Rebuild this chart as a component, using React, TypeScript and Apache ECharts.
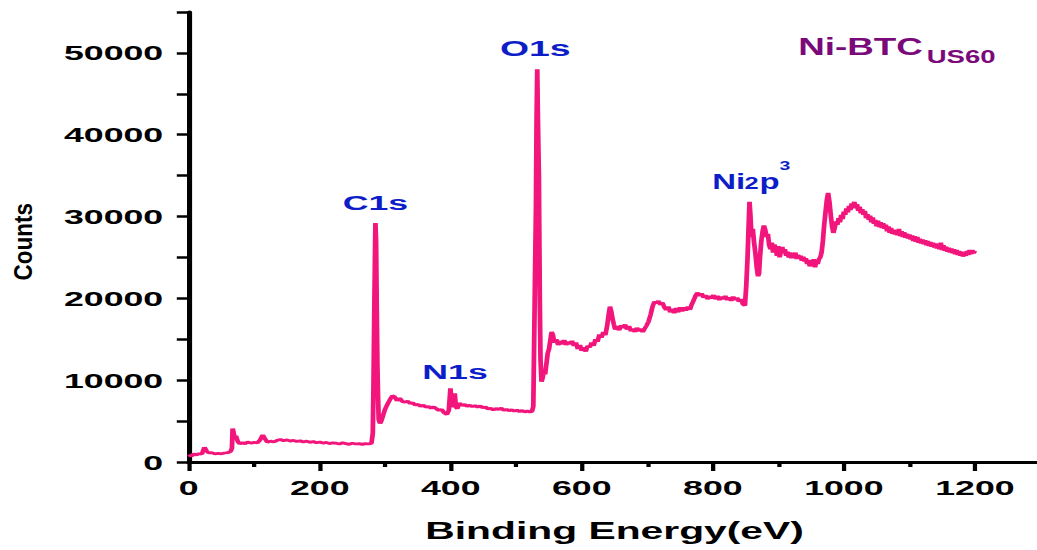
import React, { useEffect, useRef } from "react";
import * as echarts from "echarts";

// Binding energy (eV) and counts
const energy: number[] = [
  0, 4, 8, 12, 16, 20, 24, 27, 30, 35,
  40, 45, 50, 55, 60, 64, 66, 67, 68, 70,
  72, 75, 78, 82, 86, 90, 95, 100, 105, 109,
  113, 116, 120, 125, 130, 135, 140, 145, 150, 155,
  160, 165, 170, 175, 180, 185, 190, 195, 200, 205,
  210, 215, 220, 225, 230, 235, 240, 245, 250, 255,
  260, 265, 270, 275, 279, 281, 282, 283.5, 285, 286,
  287, 288, 289, 290, 292, 294, 296, 299, 303, 307,
  311, 314, 318, 322, 326, 330, 334, 338, 342, 346,
  350, 354, 358, 362, 366, 370, 374, 378, 382, 386,
  390, 394, 397, 399.5, 401, 402.5, 404, 406, 408, 410,
  413, 417, 421, 425, 429, 433, 437, 441, 445, 449,
  453, 457, 461, 465, 469, 473, 477, 481, 485, 489,
  493, 497, 501, 505, 509, 513, 517, 521, 524, 526,
  528, 530, 531, 532, 533, 534.5, 536, 537, 538.5, 540,
  542, 544, 546, 548, 550, 552, 554, 556, 558, 561,
  564, 567, 570, 573, 576, 579, 582, 585, 588, 591,
  594, 597, 600, 603, 606, 609, 612, 615, 618, 621,
  624, 627, 630, 633, 636, 639, 641, 643, 645, 647,
  649, 651, 654, 657, 660, 663, 666, 669, 672, 675,
  678, 681, 684, 687, 690, 693, 696, 699, 702, 705,
  708, 711, 714, 717, 720, 723, 726, 729, 732, 735,
  738, 741, 744, 747, 750, 753, 756, 759, 762, 765,
  768, 771, 774, 777, 780, 783, 786, 789, 792, 795,
  798, 801, 804, 807, 810, 813, 816, 819, 822, 825,
  828, 831, 834, 837, 840, 843, 846, 849, 851, 853,
  854.5, 856, 857.5, 859, 861, 863, 865, 867, 869, 870.5,
  872, 874, 876, 878, 880, 882, 884, 886, 888, 890,
  892, 894, 896, 898, 900, 902, 904, 906, 908, 910,
  912, 914, 916, 918, 920, 922, 924, 926, 928, 930,
  932, 934, 936, 938, 940, 942, 944, 946, 948, 950,
  952, 954, 956, 958, 960, 962, 964, 966, 968, 970,
  972, 974, 976, 978, 980, 982, 984, 986, 988, 990,
  992, 994, 996, 998, 1000, 1002, 1004, 1006, 1008, 1010,
  1012, 1014, 1016, 1018, 1020, 1022, 1024, 1026, 1028, 1030,
  1032, 1034, 1036, 1038, 1040, 1042, 1044, 1046, 1048, 1050,
  1052, 1054, 1056, 1058, 1060, 1062, 1064, 1066, 1068, 1070,
  1072, 1074, 1076, 1078, 1080, 1082, 1084, 1086, 1088, 1090,
  1092, 1094, 1096, 1098, 1100, 1102, 1104, 1106, 1108, 1110,
  1112, 1114, 1116, 1118, 1120, 1122, 1124, 1126, 1128, 1130,
  1132, 1134, 1136, 1138, 1140, 1142, 1144, 1146, 1148, 1150,
  1152, 1154, 1156, 1158, 1160, 1162, 1164, 1166, 1168, 1170,
  1172, 1174, 1176, 1178, 1180, 1182, 1184, 1186, 1188, 1190,
  1192, 1194, 1196, 1198, 1200,
];

const counts: number[] = [
  900, 700, 1000, 850, 1050, 950, 1800, 1400, 1100, 1150,
  1000, 1050, 1000, 1100, 1150, 1300, 1700, 4100, 3800, 3000,
  3200, 2500, 2200, 2400, 2200, 2450, 2300, 2400, 2350, 2700,
  3300, 2900, 2400, 2550, 2450, 2650, 2750, 2600, 2700, 2550,
  2650, 2500, 2600, 2450, 2550, 2400, 2500, 2350, 2450, 2300,
  2400, 2250, 2350, 2300, 2200, 2350, 2250, 2150, 2300, 2200,
  2250, 2150, 2250, 2200, 2300, 3500, 9000, 20000, 29200, 27000,
  19000, 12000, 8000, 5200, 4700, 5000, 5500, 6300, 7000, 7600,
  8100, 8000, 7500, 7800, 7400, 7300, 7450, 7150, 7250, 6950,
  7050, 6800, 6950, 6700, 6800, 6550, 6750, 6500, 6300, 6450,
  6000, 5800, 6300, 9000, 7500, 6700, 7200, 8400, 6700, 6500,
  7200, 6900, 7050, 6800, 6950, 6750, 6900, 6700, 6850, 6600,
  6750, 6450, 6600, 6350, 6550, 6400, 6600, 6300, 6450, 6250,
  6400, 6200, 6350, 6150, 6300, 6100, 6250, 6100, 6200, 6800,
  19000, 31000, 42000, 48000, 42000, 35000, 19000, 12500, 9800, 10200,
  11000, 10700, 12000, 13300, 13800, 14900, 15900, 15500, 14600, 15000,
  14300, 14800, 14400, 14900, 14300, 14700, 14400, 14800, 14200, 14600,
  13800, 14300, 13600, 14000, 13500, 14200, 14000, 14600, 14200, 15000,
  14700, 15600, 15200, 15900, 15500, 16800, 18000, 19000, 18400, 17500,
  16800, 16200, 16600, 16100, 16700, 16400, 16800, 16200, 16600, 16000,
  16300, 15900, 16400, 16000, 16300, 15900, 16300, 16700, 17200, 18000,
  19000, 19600, 19400, 19700, 19200, 19500, 18900, 18600, 19000, 18300,
  18700, 18200, 18800, 18300, 18900, 18400, 18900, 18500, 19000, 18600,
  19300, 19800, 20400, 20700, 20300, 20600, 20100, 20400, 19900, 20300,
  20000, 20400, 19900, 20300, 19800, 20200, 19900, 20300, 19800, 20100,
  19700, 20200, 19800, 20100, 19600, 19900, 19300, 19100, 21500, 25000,
  28500, 31800, 30000, 27500, 28500, 26800, 25500, 23800, 22700, 23000,
  25000, 27000, 28200, 28900, 28400, 27500, 27900, 26500, 26000, 26800,
  25600, 26600, 26000, 25200, 26400, 25000, 25800, 26300, 25500, 26000,
  25200, 25700, 25000, 25600, 24900, 25400, 25000, 25600, 24800, 25300,
  25000, 25200, 24600, 25100, 24500, 24900, 24200, 24700, 23900, 24400,
  24000, 24800, 23800, 24600, 24200, 24800, 25000, 25600, 27000, 29000,
  30500, 32000, 32900, 31800, 30200, 28800, 28000, 28600, 29400, 29000,
  29800, 29300, 30200, 29700, 30600, 30200, 31000, 30500, 31300, 30800,
  31600, 31200, 31800, 31000, 31500, 30700, 31200, 30400, 30900, 30200,
  30700, 29800, 30300, 29600, 30100, 29300, 29900, 29100, 29600, 28800,
  29500, 28700, 29300, 28600, 29200, 28500, 29000, 28200, 28800, 28000,
  28600, 27900, 28400, 27800, 28300, 27700, 28500, 27600, 28200, 27500,
  28100, 27400, 27900, 27300, 27800, 27200, 27700, 27000, 27600, 26900,
  27500, 26800, 27300, 26700, 27200, 26600, 27100, 26500, 27000, 26400,
  26900, 26300, 26800, 26200, 26700, 26100, 26600, 26000, 26800, 25900,
  26500, 25800, 26300, 25700, 26200, 25600, 26100, 25500, 26000, 25400,
  25900, 25300, 25800, 25200, 25700, 25100, 25600, 25200, 25800, 25300,
  25900, 25400, 25900, 25500, 25800,
];

const xAxisTitle = "Binding Energy(eV)";
const yAxisTitle = "Counts";
const sampleName = "Ni-BTC";
const sampleSub = "US60";
const peakLabels = ["C1s", "O1s", "N1s"];

const STRETCH = 1.7; // the reference image is stretched horizontally
const FONT = '"Liberation Sans", Arial, sans-serif';
const BLUE = "#0d1ec8";
const PURPLE = "#7a0a7a";
const LINE = "#f2167c";

export default function App() {
  const ref = useRef<HTMLDivElement>(null);

  useEffect(() => {
    if (!ref.current) return;
    const chart = echarts.init(ref.current, null, { renderer: "svg" });
    const data = energy.map((e, i) => [e, counts[i]]);

    const txt = (
      text: string,
      x: number,
      y: number,
      size: number,
      fill: string,
      extra: any = {}
    ) => ({
      type: "text",
      x,
      y,
      silent: true,
      z: 100,
      ...extra,
      style: {
        text,
        fill,
        fontSize: size,
        fontWeight: "bold",
        fontFamily: FONT,
        align: extra.align || "left",
        verticalAlign: "middle",
        textAlign: extra.align || "left",
        textVerticalAlign: "middle",
      },
    });

    chart.setOption({
      animation: false,
      backgroundColor: "#ffffff",
      grid: { left: 111, right: 0, top: 12, bottom: 88, containLabel: false },
      xAxis: {
        type: "value",
        min: 0,
        max: 1300,
        interval: 200,
        name: xAxisTitle,
        nameLocation: "middle",
        nameGap: 57,
        nameTextStyle: {
          color: "#000",
          fontSize: 24,
          fontWeight: "bold",
          fontFamily: FONT,
        },
        axisLine: { show: true, onZero: false, lineStyle: { color: "#000", width: 3 } },
        axisTick: { show: true, inside: false, length: 9, lineStyle: { color: "#000", width: 2.5 } },
        minorTick: { show: true, splitNumber: 2, length: 5, lineStyle: { color: "#000", width: 2.5 } },
        axisLabel: {
          show: true,
          margin: 15,
          color: "#000",
          fontSize: 21,
          fontWeight: "bold",
          fontFamily: FONT,
          showMaxLabel: false,
          formatter: (v: number) => String(v),
        },
        splitLine: { show: false },
        minorSplitLine: { show: false },
      },
      yAxis: {
        type: "value",
        min: 0,
        max: 55000,
        interval: 5000,
        axisLine: { show: true, onZero: false, lineStyle: { color: "#000", width: 3 } },
        axisTick: { show: true, inside: false, length: 7, lineStyle: { color: "#000", width: 2.5 } },
        axisLabel: {
          show: true,
          margin: 15,
          color: "#000",
          fontSize: 21,
          fontWeight: "bold",
          fontFamily: FONT,
          formatter: (v: number) => (v % 10000 === 0 ? String(v) : ""),
        },
        splitLine: { show: false },
      },
      series: [
        {
          type: "line",
          data,
          showSymbol: false,
          symbol: "none",
          smooth: false,
          lineStyle: { color: LINE, width: 2.8 },
          itemStyle: { color: LINE },
          z: 5,
        },
      ],
      graphic: [
        txt(yAxisTitle, 13.7, 241.7, 15, "#000", {
          rotation: Math.PI / 2,
          scaleX: 1.5,
          align: "center",
        }),
        txt(peakLabels[0], 201.6, 202.5, 21, BLUE),
        txt(peakLabels[1], 294.1, 48.3, 22, BLUE),
        txt(peakLabels[2], 248.4, 371.7, 21, BLUE),
        txt("Ni", 419, 181.6, 22, BLUE, { scaleX: 0.88 }),
        txt("2", 438, 183.3, 17, BLUE, { scaleX: 0.88 }),
        txt("p", 446.8, 181.6, 22, BLUE, { scaleX: 0.88 }),
        txt("3", 458.5, 166, 12, BLUE, { scaleX: 0.95 }),
        txt(sampleName, 469.6, 46.7, 23, PURPLE, { scaleX: 0.94 }),
        txt(sampleSub, 545.1, 57, 18, PURPLE, { scaleX: 0.9 }),
      ],
    });

    return () => chart.dispose();
  }, []);

  return (
    <div
      style={{
        position: "fixed",
        left: 0,
        top: 0,
        width: 1037,
        height: 550,
        overflow: "hidden",
        background: "#fff",
      }}
    >
      <div
        ref={ref}
        style={{
          width: 612,
          height: 550,
          transform: `scaleX(${STRETCH})`,
          transformOrigin: "0 0",
        }}
      />
    </div>
  );
}
